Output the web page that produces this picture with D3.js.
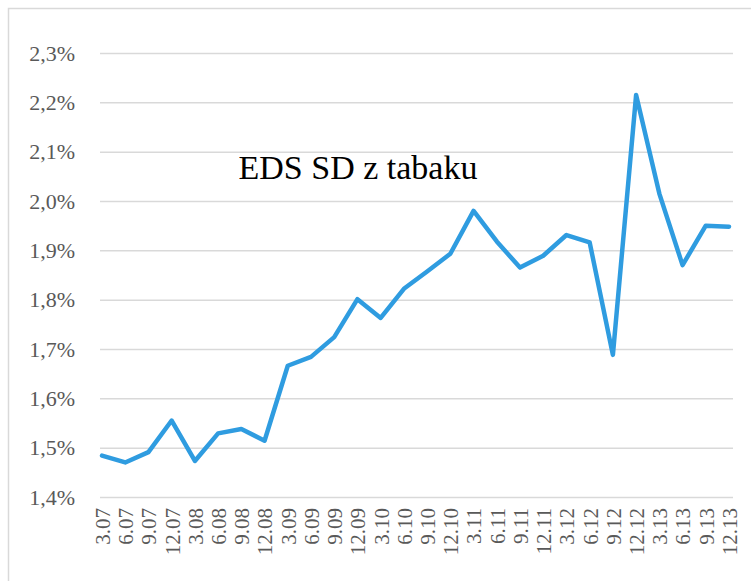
<!DOCTYPE html>
<html>
<head>
<meta charset="utf-8">
<script src="https://cdn.jsdelivr.net/npm/d3@7"></script>
<style>
  body { margin: 0; background: #fff; }
  svg { display: block; }
</style>
</head>
<body>
<svg width="751" height="581"></svg>
<script>
var quarters = ["3.07","6.07","9.07","12.07","3.08","6.08","9.08","12.08",
  "3.09","6.09","9.09","12.09","3.10","6.10","9.10","12.10",
  "3.11","6.11","9.11","12.11","3.12","6.12","9.12","12.12",
  "3.13","6.13","9.13","12.13"];

var values = [1.484, 1.470, 1.491, 1.555, 1.473, 1.529, 1.538, 1.514,
  1.666, 1.684, 1.724, 1.801, 1.763, 1.822, 1.857, 1.893,
  1.980, 1.918, 1.865, 1.889, 1.931, 1.916, 1.688, 2.215,
  2.015, 1.870, 1.950, 1.948];

var yTicks = [1.4, 1.5, 1.6, 1.7, 1.8, 1.9, 2.0, 2.1, 2.2, 2.3];

var chartTitle = "EDS SD z tabaku";

var width = 751;
var height = 581;
var plot = {left: 100, right: 733, top: 53, bottom: 497};

var svg = d3.select("svg");

// outer chart border
svg.append("rect")
  .attr("x", 8.5)
  .attr("y", 8.5)
  .attr("width", 800)
  .attr("height", 700)
  .attr("fill", "none")
  .attr("stroke", "#d9d9d9")
  .attr("stroke-width", 1.5);

var xScale = d3.scalePoint().domain(quarters).range([102, 729]);
var yScale = d3.scaleLinear().domain([1.4, 2.3]).range([plot.bottom, plot.top]);

var fmt = function (d) { return d.toFixed(1).replace(".", ",") + "%"; };

// gridlines + y labels
var yAxis = d3.axisLeft(yScale)
  .tickValues(yTicks)
  .tickFormat(fmt)
  .tickSize(-(plot.right - plot.left))
  .tickPadding(25);

var gy = svg.append("g")
  .attr("transform", "translate(" + plot.left + ",0)")
  .call(yAxis);
gy.select(".domain").remove();
gy.selectAll("line").attr("stroke", "#d9d9d9").attr("stroke-width", 1.5);
gy.selectAll("text")
  .attr("fill", "#595959")
  .style("font-family", "'Liberation Serif', 'DejaVu Serif', serif")
  .style("font-size", "22px");

// x labels, rotated
var xAxis = d3.axisBottom(xScale).tickSize(0).tickPadding(0);
var gx = svg.append("g")
  .attr("transform", "translate(0," + plot.bottom + ")")
  .call(xAxis);
gx.select(".domain").remove();
gx.selectAll("text")
  .attr("fill", "#595959")
  .style("font-family", "'Liberation Serif', 'DejaVu Serif', serif")
  .style("font-size", "21px")
  .attr("text-anchor", "end")
  .attr("transform", "rotate(-90)")
  .attr("x", -11)
  .attr("y", 0)
  .attr("dy", "0.35em");

// the series
var line = d3.line()
  .x(function (d, i) { return xScale(quarters[i]); })
  .y(function (d) { return yScale(d); });

svg.append("path")
  .datum(values)
  .attr("d", line)
  .attr("fill", "none")
  .attr("stroke", "#2f9ce0")
  .attr("stroke-width", 4.5)
  .attr("stroke-linejoin", "round")
  .attr("stroke-linecap", "round");

// title inside plot
svg.append("text")
  .attr("x", 358)
  .attr("y", 179)
  .style("text-anchor", "middle")
  .style("font-family", "'Liberation Serif', 'DejaVu Serif', serif")
  .style("font-size", "34px")
  .attr("fill", "#000")
  .text(chartTitle);
</script>
</body>
</html>
